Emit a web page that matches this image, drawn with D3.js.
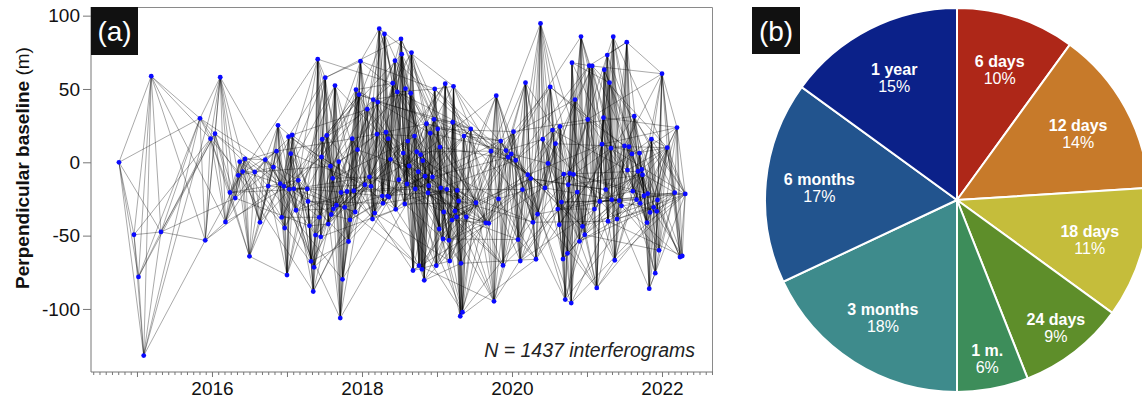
<!DOCTYPE html>
<html><head><meta charset="utf-8">
<script src="https://cdn.jsdelivr.net/npm/d3@7"></script>
<style>body{margin:0;background:#fff}svg{display:block;font-family:"Liberation Sans",Arial,Helvetica,sans-serif}</style>
</head><body><svg id="c" width="1142" height="401"></svg>
<script>
// ---- Panel (a): acquisitions (decimal year) and perpendicular baselines (m)
const acqYear = [
2014.76,2014.96,2015.02,2015.09,2015.19,2015.32,2015.84,2015.91,2015.98,2016.04,
2016.11,2016.18,2016.24,2016.31,2016.35,2016.37,2016.41,2016.44,2016.50,2016.57,
2016.64,2016.71,2016.75,2016.82,2016.86,2016.88,2016.91,2016.93,2016.96,2016.97,
2017.00,2017.02,2017.03,2017.05,2017.07,2017.09,2017.12,2017.15,2017.27,2017.28,
2017.30,2017.32,2017.35,2017.36,2017.38,2017.41,2017.43,2017.45,2017.46,2017.47,
2017.51,2017.53,2017.55,2017.58,2017.59,2017.61,2017.62,2017.64,2017.66,2017.69,
2017.71,2017.72,2017.74,2017.77,2017.80,2017.82,2017.84,2017.87,2017.89,2017.91,
2017.92,2017.94,2017.96,2017.98,2018.04,2018.07,2018.10,2018.12,2018.14,2018.15,
2018.17,2018.20,2018.21,2018.23,2018.27,2018.28,2018.30,2018.32,2018.34,2018.35,
2018.36,2018.38,2018.41,2018.44,2018.45,2018.47,2018.49,2018.52,2018.53,2018.55,
2018.57,2018.58,2018.60,2018.61,2018.63,2018.65,2018.66,2018.68,2018.70,2018.71,
2018.73,2018.75,2018.76,2018.78,2018.80,2018.81,2018.83,2018.84,2018.86,2018.88,
2018.89,2018.91,2018.94,2018.96,2018.97,2018.99,2019.01,2019.03,2019.04,2019.05,
2019.08,2019.09,2019.11,2019.13,2019.16,2019.17,2019.20,2019.21,2019.22,2019.24,
2019.26,2019.27,2019.29,2019.31,2019.32,2019.34,2019.36,2019.39,2019.45,2019.52,
2019.65,2019.69,2019.72,2019.76,2019.79,2019.82,2019.85,2019.88,2019.92,2019.95,
2019.99,2020.02,2020.05,2020.08,2020.11,2020.14,2020.18,2020.21,2020.25,2020.28,
2020.32,2020.34,2020.38,2020.41,2020.44,2020.48,2020.51,2020.54,2020.58,2020.61,
2020.63,2020.64,2020.66,2020.68,2020.69,2020.71,2020.74,2020.75,2020.77,2020.79,
2020.80,2020.82,2020.84,2020.87,2020.90,2020.92,2020.94,2020.97,2021.01,2021.03,
2021.07,2021.10,2021.13,2021.17,2021.20,2021.22,2021.23,2021.25,2021.27,2021.28,
2021.30,2021.32,2021.33,2021.35,2021.37,2021.40,2021.43,2021.46,2021.50,2021.53,
2021.54,2021.56,2021.60,2021.61,2021.63,2021.66,2021.68,2021.70,2021.71,2021.73,
2021.74,2021.76,2021.80,2021.81,2021.83,2021.84,2021.86,2021.89,2021.91,2021.93,
2021.94,2021.96,2022.00,2022.07,2022.17,2022.20,2022.24,2022.27,2022.31];
const baselineM = [
0,-49.4,-78.2,-131.8,58.7,-47.5,30.0,-53.2,16.1,19.5,
58.0,-40.7,-20.6,-24.4,-8.9,0.4,-6.3,2.3,-64.1,-6.6,
-40.9,1.8,-16.2,-3.3,7.6,25.2,-14.6,-37.5,-16.4,-44.8,
-76.9,17.5,-18.4,5.9,18.6,-18.1,-32.7,-12.3,-18.2,-26.7,
-43.3,-67.5,-88.1,-71.6,-49.6,70.3,-37.5,-50.8,3.6,15.7,
57.7,18.4,-42.1,-2.7,-35.6,-10.9,-31.7,52.3,-29.3,0.4,
-106.2,-20.6,-79.8,-30.7,-19.9,-54.0,-39.2,16.1,-19.4,-33.9,
49.5,8.6,46.2,68.9,-15.3,36.2,-9.9,-16.4,-38.7,42.7,
-34.6,19.2,41.1,91.1,-23.0,-28.0,87.5,20.5,-23.0,16.1,
-23.7,2.0,53.9,69.3,-32.1,48.0,-11.9,84.1,73.7,6.3,
-28.4,50.2,-14.8,14.5,-2.5,47.1,74.8,-73.8,17.9,-18.2,
7.2,-6.4,-70.5,5.2,-73.0,1.1,-80.5,-9.5,26.3,-20.9,
-16.0,19.8,-10.0,29.3,50.0,-70.5,22.7,-45.5,10.4,-17.5,
-52.3,-33.9,53.6,-18.4,-53.2,-67.3,-39.4,27.3,51.8,-33.2,
-37.3,-19.2,-26.4,-105.0,-68.9,-102.2,17.9,-37.3,22.7,-27.6,
-41.3,-41.6,7.6,-94.8,45.4,-25.0,14.5,-70.3,8.0,3.5,
5.7,20.9,1.4,-52.7,-67.3,-18.6,54.3,-8.5,-11.1,-40.9,
-66.1,-35.4,94.7,15.7,-17.5,-0.8,51.4,22.0,12.7,-31.9,
-42.6,24.4,-27.1,-66.0,-8.1,-93.6,-62.1,-15.3,-7.6,-96.0,
67.9,-8.3,42.8,-20.3,-53.9,85.7,-43.7,-49.4,29.2,65.9,
65.7,-31.9,-85.7,-26.7,12.3,30.4,63.1,-18.6,73.1,-40.2,
54.3,9.6,-25.5,85.6,-66.8,-38.7,-26.2,-29.7,11.1,81.9,
-5.3,10.6,5.7,-19.7,31.4,-25.5,-6.1,6.2,-28.0,-4.9,
-8.5,-22.8,-41.1,-21.4,-86.2,-34.2,15.8,-30.7,-75.6,-33.4,
-25.7,-60.0,60.4,10.0,-20.7,23.7,-64.6,-63.9,-21.6];

const yTicks = [-100, -50, 0, 50, 100];
const xLabelYears = [2016, 2018, 2020, 2022];
const xDomain = [2014.387, 2022.68];
const yDomain = [-143, 105.9];
// network rule: successive-acquisition pairs and pairs at fixed temporal offsets (years)
const neighbourSteps = [1, 2, 3, 4];
const offsetYears = [1/12, 0.25, 0.5, 1];
const nInterferograms = 1437;

// ---- Panel (b): temporal-baseline shares
const pieLabels = ["6 days","12 days","18 days","24 days","1 m.","3 months","6 months","1 year"];
const piePercents = [10, 14, 11, 9, 6, 18, 17, 15];
const pieColors = ["#ae2718","#c77a2a","#c5bd3b","#5e8e2a","#3d8d5a","#3e8b8c","#22548e","#0b2189"];

const svg = d3.select("#c");
const x = d3.scaleLinear().domain(xDomain).range([91, 713]);
const y = d3.scaleLinear().domain(yDomain).range([372, 7]);

svg.append("path").attr("d", `M91,7.5H712.5V372`).attr("fill","none").attr("stroke","#8a8a8a").attr("stroke-width",1);

const pts = acqYear.map((t,i)=>({t, b: baselineM[i]}));
const links = new Set();
const add=(i,j)=>{ if(i===j) return; const a=Math.min(i,j), c=Math.max(i,j); links.add(a+"-"+c); };
pts.forEach((p,i)=>{
  neighbourSteps.forEach(k=>{ if(i+k<pts.length) add(i,i+k); });
  offsetYears.forEach(o=>{
    const target = p.t + o;
    let best=-1, bd=1e9;
    pts.forEach((q,j)=>{ const d=Math.abs(q.t-target); if(d<bd){bd=d;best=j;} });
    if(best>=0 && bd < Math.max(0.04, o*0.12)) add(i,best);
  });
});
const linkArr = Array.from(links).map(s=>s.split("-").map(Number));

const gL = svg.append("g");
gL.selectAll("line").data(linkArr).join("line")
  .attr("x1", d=>x(pts[d[0]].t)).attr("y1", d=>y(pts[d[0]].b))
  .attr("x2", d=>x(pts[d[1]].t)).attr("y2", d=>y(pts[d[1]].b))
  .attr("stroke","#000").attr("stroke-opacity",0.4).attr("stroke-width",0.85);

svg.append("g").selectAll("circle").data(pts).join("circle")
  .attr("cx", d=>x(d.t)).attr("cy", d=>y(d.b)).attr("r", 2.4).attr("fill","#0a0aff");

const yAxis = svg.append("g").attr("transform","translate(91,0)")
  .call(d3.axisLeft(y).tickValues(yTicks).tickSize(8).tickPadding(3).tickFormat(d=>String(d)));
yAxis.select(".domain").attr("stroke","#777").attr("d","M0,7V372");
yAxis.selectAll(".tick line").attr("stroke","#777");
yAxis.selectAll("text").attr("font-size",19).attr("fill","#111").attr("font-family",null);

const months = d3.range(Math.ceil(xDomain[0]*12), Math.floor(xDomain[1]*12)+1).map(m=>m/12);
const xMinor = svg.append("g").attr("transform","translate(0,372)")
  .call(d3.axisBottom(x).tickValues(months).tickSize(3).tickFormat(""));
xMinor.select(".domain").attr("stroke","#777").attr("d","M91,0H713");
xMinor.selectAll(".tick line").attr("stroke","#777");
const years = d3.range(Math.ceil(xDomain[0]), Math.floor(xDomain[1])+1);
const xMajor = svg.append("g").attr("transform","translate(0,372)")
  .call(d3.axisBottom(x).tickValues(years).tickSize(5).tickPadding(5)
    .tickFormat(d=> xLabelYears.includes(d) ? String(d) : ""));
xMajor.select(".domain").remove();
xMajor.selectAll(".tick line").attr("stroke","#777");
xMajor.selectAll("text").attr("font-size",19).attr("fill","#111").attr("font-family",null);

const yt = svg.append("text").attr("transform","translate(29,168) rotate(-90)")
  .attr("text-anchor","middle").attr("font-size",19).attr("fill","#111");
yt.append("tspan").attr("font-weight","bold").text("Perpendicular baseline ");
yt.append("tspan").text("(m)");

svg.append("text").attr("x",695).attr("y",357).attr("text-anchor","end")
  .attr("font-size",19.5).attr("font-style","italic").attr("fill","#222")
  .text(`N = ${nInterferograms} interferograms`);

svg.append("rect").attr("x",91).attr("y",7).attr("width",47).attr("height",48).attr("fill","#111");
svg.append("text").attr("x",114.5).attr("y",41).attr("text-anchor","middle")
  .attr("font-size",28).attr("fill","#fff").text("(a)");

// ---- pie
const R = 192, cx = 957, cy = 200;
const pie = d3.pie().sort(null).value(d=>d.v);
const pieData = pie(pieLabels.map((l,i)=>({l, v: piePercents[i], c: pieColors[i]})));
const arc = d3.arc().innerRadius(0).outerRadius(R);
const gP = svg.append("g").attr("transform",`translate(${cx},${cy})`);
gP.selectAll("path").data(pieData).join("path")
  .attr("d", arc).attr("fill", d=>d.data.c).attr("stroke","#fff").attr("stroke-width",2);
// labels: narrow slices pushed further out
const labR = d => R * (d.data.v < 10 ? 0.84 : 0.72);
const gT = gP.selectAll("g.lb").data(pieData).join("g").attr("class","lb")
  .attr("transform", d=>{ const r=labR(d); return `translate(${d3.arc().innerRadius(r).outerRadius(r).centroid(d)})`; });
gT.append("text").attr("text-anchor","middle").attr("y",-2).attr("font-size",16)
  .attr("font-weight","bold").attr("fill","#fff").text(d=>d.data.l);
gT.append("text").attr("text-anchor","middle").attr("y",15).attr("font-size",16)
  .attr("fill","#fff").text(d=>d.data.v+"%");

svg.append("rect").attr("x",752).attr("y",7).attr("width",48).attr("height",47).attr("fill","#111");
svg.append("text").attr("x",776).attr("y",41).attr("text-anchor","middle")
  .attr("font-size",28).attr("fill","#fff").text("(b)");
</script></body></html>
